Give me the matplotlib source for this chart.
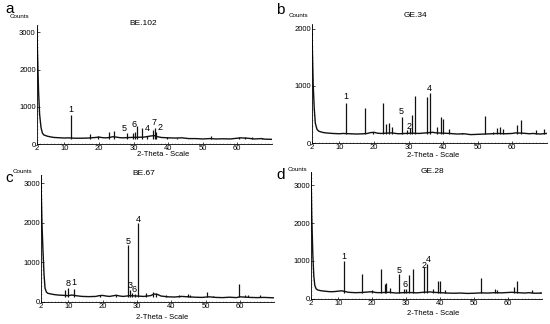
import matplotlib
matplotlib.use("Agg")
import matplotlib.pyplot as plt
from matplotlib.ticker import MultipleLocator

plt.rcParams['font.family'] = ['Liberation Sans', 'DejaVu Sans']

# ---- panel a: BE.102 ----
a_bg_x = [2.0, 2.2, 2.5, 2.8, 3.2, 3.6, 4.0, 5, 6, 7, 8, 9, 10, 11, 13, 15, 17, 19, 20, 21, 22, 23, 24, 25,
          26, 27, 29, 31, 33, 35, 36, 37, 38, 40, 42, 44, 46, 48, 50, 52, 54, 56, 58, 60, 61, 63, 65, 67, 68, 70]
a_bg_y = [3150, 2400, 1400, 800, 450, 300, 250, 215, 195, 180, 175, 170, 165, 170, 160, 160, 165, 180, 190, 175,
          170, 180, 200, 190, 175, 170, 180, 185, 190, 220, 230, 200, 180, 170, 165, 170, 150, 150, 140, 150,
          140, 145, 140, 160, 170, 160, 140, 150, 135, 130]
a_pk_x = [12.0, 17.5, 19.8, 22.8, 24.4, 28.1, 29.9, 30.4, 31.0, 32.5, 33.9, 35.7, 36.2, 36.6, 39.8, 42.5,
          52.4, 60.4, 62.4, 64.4, 67.1]
a_pk_y = [790, 260, 210, 320, 350, 290, 300, 320, 500, 430, 210, 380, 430, 340, 200, 170,
          230, 190, 190, 200, 170]
a_lab = ["1", "5", "6", "4", "7", "2"]
a_lab_x = [11.9, 27.4, 30.1, 34.1, 35.8, 37.6]
a_lab_y = [930, 425, 515, 425, 595, 445]

# ---- panel b: GE.34 ----
b_bg_x = [2.0, 2.2, 2.4, 2.7, 3.0, 3.5, 4, 5, 6, 7, 8, 10, 11, 13, 15, 17, 18, 19, 20, 21, 22, 25, 27, 29,
          31, 33, 35, 37, 38, 40, 42, 44, 46, 48, 50, 52, 54, 56, 58, 60, 61, 63, 65, 66, 68, 70]
b_bg_y = [2050, 1500, 1000, 600, 350, 240, 210, 190, 180, 175, 170, 165, 170, 165, 160, 165, 170, 185, 190,
          175, 170, 180, 165, 170, 175, 170, 180, 190, 180, 175, 170, 160, 165, 150, 155, 160, 165, 170,
          165, 170, 180, 175, 165, 170, 160, 170]
b_pk_x = [12.0, 17.4, 19.6, 22.7, 23.6, 24.4, 25.3, 28.0, 29.6, 30.3, 30.9, 32.0, 35.4, 36.1, 38.1, 39.5,
          39.9, 41.6, 45.5, 52.0, 54.5, 55.7, 56.6, 57.4, 61.5, 62.6, 66.8, 69.2]
b_pk_y = [700, 610, 200, 700, 330, 350, 290, 460, 230, 260, 500, 830, 800, 880, 290, 450,
          420, 250, 180, 480, 200, 260, 290, 240, 310, 400, 230, 250]
b_lab = ["1", "5", "2", "4"]
b_lab_x = [11.8, 27.9, 30.2, 36.1]
b_lab_y = [810, 545, 300, 950]

# ---- panel c: BE.67 ----
c_bg_x = [2.0, 2.3, 2.6, 2.9, 3.2, 3.6, 4, 5, 6, 7, 8, 9, 10, 11, 13, 14, 16, 18, 19, 20, 21, 22, 24, 25,
          26, 28, 30, 32, 34, 35, 36, 37, 39, 41, 43, 45, 47, 49, 51, 53, 55, 57, 59, 60, 61, 63, 65, 67, 70]
c_bg_y = [3200, 2000, 1300, 700, 350, 250, 220, 200, 185, 175, 170, 165, 160, 175, 150, 140, 135, 140, 160,
          165, 150, 140, 170, 150, 140, 160, 150, 140, 160, 200, 190, 150, 130, 125, 140, 130, 120, 115,
          130, 115, 110, 120, 110, 130, 125, 115, 110, 115, 105]
c_pk_x = [9.0, 10.0, 11.7, 19.3, 23.9, 27.4, 28.0, 28.7, 29.4, 30.4, 32.5, 34.8, 35.5, 38.6, 42.3, 45.0,
          45.5, 50.5, 52.2, 59.8, 61.5, 62.5, 65.8]
c_pk_y = [290, 350, 330, 180, 180, 1450, 290, 230, 210, 2000, 230, 250, 225, 180, 170, 210,
          180, 250, 160, 460, 180, 180, 170]
c_lab = ["8", "1", "5", "3", "6", "4"]
c_lab_x = [10.0, 11.7, 27.5, 28.0, 29.3, 30.4]
c_lab_y = [460, 480, 1520, 410, 305, 2085]

# ---- panel d: GE.28 ----
d_bg_x = [2.0, 2.2, 2.5, 2.8, 3.1, 3.5, 4, 5, 6, 7, 8, 9, 10, 11, 13, 15, 17, 19, 20, 21, 22, 25, 27, 29,
          31, 33, 35, 37, 38, 40, 42, 44, 46, 48, 50, 52, 54, 56, 58, 60, 61, 63, 65, 66, 68, 70]
d_bg_y = [3330, 2200, 1200, 600, 350, 260, 230, 210, 200, 190, 185, 190, 200, 210, 170, 160, 165, 180, 185,
          165, 160, 170, 150, 160, 165, 155, 170, 180, 170, 160, 150, 145, 150, 140, 145, 155, 150, 160,
          155, 165, 170, 160, 150, 160, 145, 150]
d_pk_x = [11.8, 17.1, 19.8, 22.5, 23.7, 24.2, 25.2, 27.8, 29.4, 29.9, 30.8, 31.9, 35.2, 36.1, 37.9, 39.4,
          39.9, 41.5, 46.5, 52.0, 56.1, 56.6, 61.8, 62.5, 66.9, 69.3]
d_pk_y = [1010, 660, 220, 790, 395, 420, 280, 650, 245, 265, 615, 790, 830, 920, 265, 480,
          465, 220, 160, 545, 265, 220, 305, 480, 220, 175]
d_lab = ["1", "5", "6", "2", "4"]
d_lab_x = [11.7, 27.8, 29.6, 35.2, 36.5]
d_lab_y = [1120, 745, 375, 875, 1035]

xticks = [2, 10, 20, 30, 40, 50, 60]

fig = plt.figure(figsize=(5.5, 3.24), dpi=100)


def panel(rect, bg_x, bg_y, pk_x, pk_y, base, labs, lab_x, lab_y, title, title_xy,
          ytop, yticks, counts_xy, xlab_xy):
    ax = fig.add_axes(rect)
    ax.plot(bg_x, bg_y, color="#111111", lw=1.0)
    ax.vlines(pk_x, base, pk_y, color="#111111", lw=0.9)
    for t, x, y in zip(labs, lab_x, lab_y):
        ax.text(x, y, t, fontsize=6.5, ha="center", va="center")
    ax.set_xlim(2, 70)
    ax.set_ylim(0, ytop)
    ax.set_xticks(xticks)
    ax.set_yticks(yticks)
    ax.yaxis.set_minor_locator(MultipleLocator(100))
    ax.xaxis.set_minor_locator(MultipleLocator(1))
    ax.tick_params(labelsize=5.5, length=1.8, width=0.5, pad=0.8, direction="in")
    ax.tick_params(which="minor", length=1.0, width=0.4, direction="in", color="#777777")
    for s in ["top", "right"]:
        ax.spines[s].set_visible(False)
    for s in ["left", "bottom"]:
        ax.spines[s].set_linewidth(0.6)
    ax.text(title_xy[0], title_xy[1], title, fontsize=6, ha="center", va="center",
            transform=ax.transAxes)
    ax.text(counts_xy[0], counts_xy[1], "Counts", fontsize=4.5, ha="left", va="center",
            transform=ax.transAxes)
    ax.text(xlab_xy[0], xlab_xy[1], "2-Theta - Scale", fontsize=5.5, ha="center", va="center",
            transform=ax.transAxes)
    return ax


panel([0.067, 0.555, 0.427, 0.368], a_bg_x, a_bg_y, a_pk_x, a_pk_y, 150,
      a_lab, a_lab_x, a_lab_y, "BE.102", (0.453, 1.008), 3200, [0, 1000, 2000, 3000],
      (-0.114, 1.067), (0.537, -0.09))
panel([0.567, 0.558, 0.427, 0.368], b_bg_x, b_bg_y, b_pk_x, b_pk_y, 160,
      b_lab, b_lab_x, b_lab_y, "GE.34", (0.442, 1.075), 2080, [0, 1000, 2000],
      (-0.1, 1.075), (0.516, -0.1))
panel([0.0744, 0.068, 0.424, 0.391], c_bg_x, c_bg_y, c_pk_x, c_pk_y, 130,
      c_lab, c_lab_x, c_lab_y, "BE.67", (0.442, 1.013), 3200, [0, 1000, 2000, 3000],
      (-0.12, 1.026), (0.518, -0.12))
panel([0.5656, 0.078, 0.42, 0.391], d_bg_x, d_bg_y, d_pk_x, d_pk_y, 150,
      d_lab, d_lab_x, d_lab_y, "GE.28", (0.525, 1.005), 3350, [0, 1000, 2000, 3000],
      (-0.1, 1.024), (0.529, -0.118))

for letter, x, y in [("a", 0.009, 0.972), ("b", 0.502, 0.97), ("c", 0.009, 0.452), ("d", 0.503, 0.46)]:
    fig.text(x, y, letter, fontsize=11, ha="left", va="center")

fig.savefig("out.png", dpi=100)
